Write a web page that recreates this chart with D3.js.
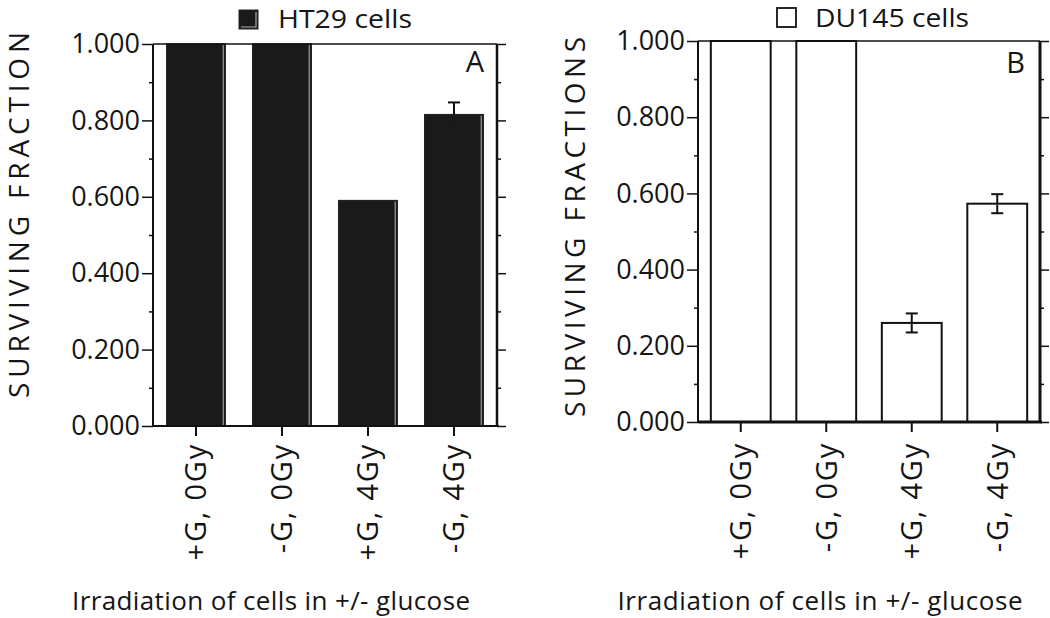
<!DOCTYPE html>
<html><head><meta charset="utf-8">
<script src="https://cdn.jsdelivr.net/npm/d3@7"></script>
<style>
body{margin:0;background:#fff}
svg{display:block}
text{font-family:"Open Sans",sans-serif;fill:#151515}
</style>
</head><body>
<svg id="c" width="1050" height="618"></svg>
<script>
// ---- data ----
const categories = ["+G, 0Gy", "-G, 0Gy", "+G, 4Gy", "-G, 4Gy"];
const yTicks = [0, 0.2, 0.4, 0.6, 0.8, 1.0];
const yMinorTicks = [0.1, 0.3, 0.5, 0.7, 0.9];
const ht29Values = [1.0, 1.0, 0.59, 0.815];
const ht29Errors = [0, 0, 0, 0.032];
const du145Values = [1.0, 1.0, 0.26, 0.573];
const du145Errors = [0, 0, 0.025, 0.025];
const panelTitles = ["HT29 cells", "DU145 cells"];
const panelLetters = ["A", "B"];
const yTitles = ["SURVIVING FRACTION", "SURVIVING FRACTIONS"];
const xTitle = "Irradiation of cells in +/- glucose";

const svg = d3.select("#c");
const FONT = '"Open Sans",sans-serif';

const panels = [
  {values: ht29Values, errors: ht29Errors, title: panelTitles[0], letter: panelLetters[0], yTitle: yTitles[0],
   dark: true, x0: 153, x1: 497, yb: 426, yt: 44, pad: 0.32, rightW: 2.5, bottomW: 2,
   legX: 239, legY: 10, legS: 19, titleX: 278, titleY: 28, titleFs: 26, titleLen: 134,
   letterX: 484, letterY: 72, yTitleX: 29, yTitleC: 215, yTitleLen: 366,
   xTitleC: 271, xTitleLen: 398, labelOff: 17},
  {values: du145Values, errors: du145Errors, title: panelTitles[1], letter: panelLetters[1], yTitle: yTitles[1],
   dark: false, x0: 698, x1: 1040, yb: 422, yt: 41, pad: 0.30, rightW: 3, bottomW: 3,
   legX: 777, legY: 8, legS: 19, titleX: 815, titleY: 27, titleFs: 25, titleLen: 154,
   letterX: 1025, letterY: 73, yTitleX: 585, yTitleC: 227, yTitleLen: 380,
   xTitleC: 820, xTitleLen: 405, labelOff: 20}
];

panels.forEach(p => {
  const g = svg.append("g");
  const x = d3.scaleBand().domain(categories).range([p.x0, p.x1])
    .paddingInner(p.pad).paddingOuter(p.pad / 2);
  const y = d3.scaleLinear().domain([0, 1]).range([p.yb, p.yt]);
  const bw = x.bandwidth();
  const fill = p.dark ? "#1a1a1a" : "#fff";

  // bars
  const bars = g.append("g").selectAll("g").data(categories).join("g");
  bars.append("rect")
    .attr("x", d => x(d))
    .attr("y", (d, i) => y(p.values[i]))
    .attr("width", bw)
    .attr("height", (d, i) => y(0) - y(p.values[i]))
    .attr("fill", fill)
    .attr("stroke", p.dark ? "#222" : "#111")
    .attr("stroke-width", p.dark ? 1.5 : 2);
  if (p.dark) {
    bars.append("line")
      .attr("x1", d => x(d) + bw - 2).attr("x2", d => x(d) + bw - 2)
      .attr("y1", (d, i) => y(p.values[i]) + 1).attr("y2", y(0))
      .attr("stroke", "#9a9a9a").attr("stroke-width", 1.2);
  }

  // error bars (part inside a dark bar is drawn in the bar colour, as in the original)
  const errData = categories.map((c, i) => ({c, v: p.values[i], e: p.errors[i]})).filter(d => d.e > 0);
  const eb = g.append("g").selectAll("g").data(errData).join("g").attr("stroke-width", 2);
  const cx = d => x(d.c) + bw / 2;
  eb.append("line").attr("stroke", "#111")
    .attr("x1", cx).attr("x2", cx)
    .attr("y1", d => y(d.v + d.e)).attr("y2", d => y(d.v));
  eb.append("line").attr("stroke", "#111")
    .attr("x1", d => cx(d) - 6).attr("x2", d => cx(d) + 6)
    .attr("y1", d => y(d.v + d.e)).attr("y2", d => y(d.v + d.e));
  const lowCol = p.dark ? fill : "#111";
  eb.append("line").attr("stroke", lowCol)
    .attr("x1", cx).attr("x2", cx)
    .attr("y1", d => y(d.v) + 1).attr("y2", d => y(d.v - d.e));
  eb.append("line").attr("stroke", lowCol)
    .attr("x1", d => cx(d) - 6).attr("x2", d => cx(d) + 6)
    .attr("y1", d => y(d.v - d.e)).attr("y2", d => y(d.v - d.e));

  // left axis
  const la = g.append("g").attr("transform", `translate(${p.x0},0)`)
    .call(d3.axisLeft(y).tickValues(yTicks).tickFormat(d3.format(".3f")).tickSize(11).tickPadding(2));
  la.select(".domain").remove();
  la.selectAll("line").attr("stroke", "#111").attr("stroke-width", 1.5);
  la.selectAll("text").attr("font-size", 27).attr("fill", "#151515").style("font-family", FONT);
  const lm = g.append("g").attr("transform", `translate(${p.x0},0)`)
    .call(d3.axisLeft(y).tickValues(yMinorTicks).tickFormat("").tickSize(4));
  lm.select(".domain").remove();
  lm.selectAll("line").attr("stroke", "#111").attr("stroke-width", 1.5);

  // right axis
  const ra = g.append("g").attr("transform", `translate(${p.x1},0)`)
    .call(d3.axisRight(y).tickValues(yTicks).tickFormat("").tickSize(9));
  ra.select(".domain").remove();
  ra.selectAll("line").attr("stroke", "#111").attr("stroke-width", 1.5);
  const rm = g.append("g").attr("transform", `translate(${p.x1},0)`)
    .call(d3.axisRight(y).tickValues(yMinorTicks).tickFormat("").tickSize(4));
  rm.select(".domain").remove();
  rm.selectAll("line").attr("stroke", "#111").attr("stroke-width", 1.5);

  // bottom axis
  const ba = g.append("g").attr("transform", `translate(0,${p.yb})`)
    .call(d3.axisBottom(x).tickSize(10));
  ba.select(".domain").remove();
  ba.selectAll("line").attr("stroke", "#111").attr("stroke-width", 2);
  ba.selectAll("text")
    .attr("transform", "rotate(-90)")
    .attr("x", -p.labelOff).attr("y", 0).attr("dy", "0.36em")
    .attr("text-anchor", "end")
    .attr("font-size", 29).attr("letter-spacing", 1.8)
    .attr("fill", "#151515").style("font-family", FONT);

  // frame lines
  g.append("line").attr("x1", p.x0).attr("x2", p.x1).attr("y1", p.yt).attr("y2", p.yt)
    .attr("stroke", "#111").attr("stroke-width", 1.5);
  g.append("line").attr("x1", p.x0).attr("x2", p.x0).attr("y1", p.yt).attr("y2", p.yb)
    .attr("stroke", "#111").attr("stroke-width", 2);
  g.append("line").attr("x1", p.x1).attr("x2", p.x1).attr("y1", p.yt).attr("y2", p.yb + 1)
    .attr("stroke", "#111").attr("stroke-width", p.rightW);
  g.append("line").attr("x1", p.x0).attr("x2", p.x1 + 2).attr("y1", p.yb).attr("y2", p.yb)
    .attr("stroke", "#111").attr("stroke-width", p.bottomW);

  // legend square + title
  if (p.dark) {
    g.append("rect").attr("x", p.legX).attr("y", p.legY).attr("width", p.legS).attr("height", p.legS)
      .attr("fill", "#1a1a1a").attr("stroke", "#222").attr("stroke-width", 1);
    g.append("path")
      .attr("d", `M${p.legX + p.legS - 2},${p.legY + 2}V${p.legY + p.legS - 2}H${p.legX + 2}`)
      .attr("fill", "none").attr("stroke", "#aaa").attr("stroke-width", 1.2);
  } else {
    g.append("rect").attr("x", p.legX).attr("y", p.legY).attr("width", p.legS).attr("height", p.legS)
      .attr("fill", "#fff").attr("stroke", "#111").attr("stroke-width", 1.8);
  }
  g.append("text").attr("x", p.titleX).attr("y", p.titleY)
    .attr("font-size", p.titleFs).attr("textLength", p.titleLen).attr("lengthAdjust", "spacingAndGlyphs")
    .text(p.title);

  // panel letter
  g.append("text").attr("x", p.letterX).attr("y", p.letterY).attr("text-anchor", "end")
    .attr("font-size", 29).text(p.letter);

  // y title
  g.append("text")
    .attr("transform", `translate(${p.yTitleX},${p.yTitleC}) rotate(-90)`)
    .attr("text-anchor", "middle").attr("font-size", 28)
    .attr("textLength", p.yTitleLen).attr("lengthAdjust", "spacing")
    .text(p.yTitle);

  // x title
  g.append("text").attr("x", p.xTitleC).attr("y", 610).attr("text-anchor", "middle")
    .attr("font-size", 26).attr("textLength", p.xTitleLen).attr("lengthAdjust", "spacing")
    .text(xTitle);
});
</script>
</body></html>
